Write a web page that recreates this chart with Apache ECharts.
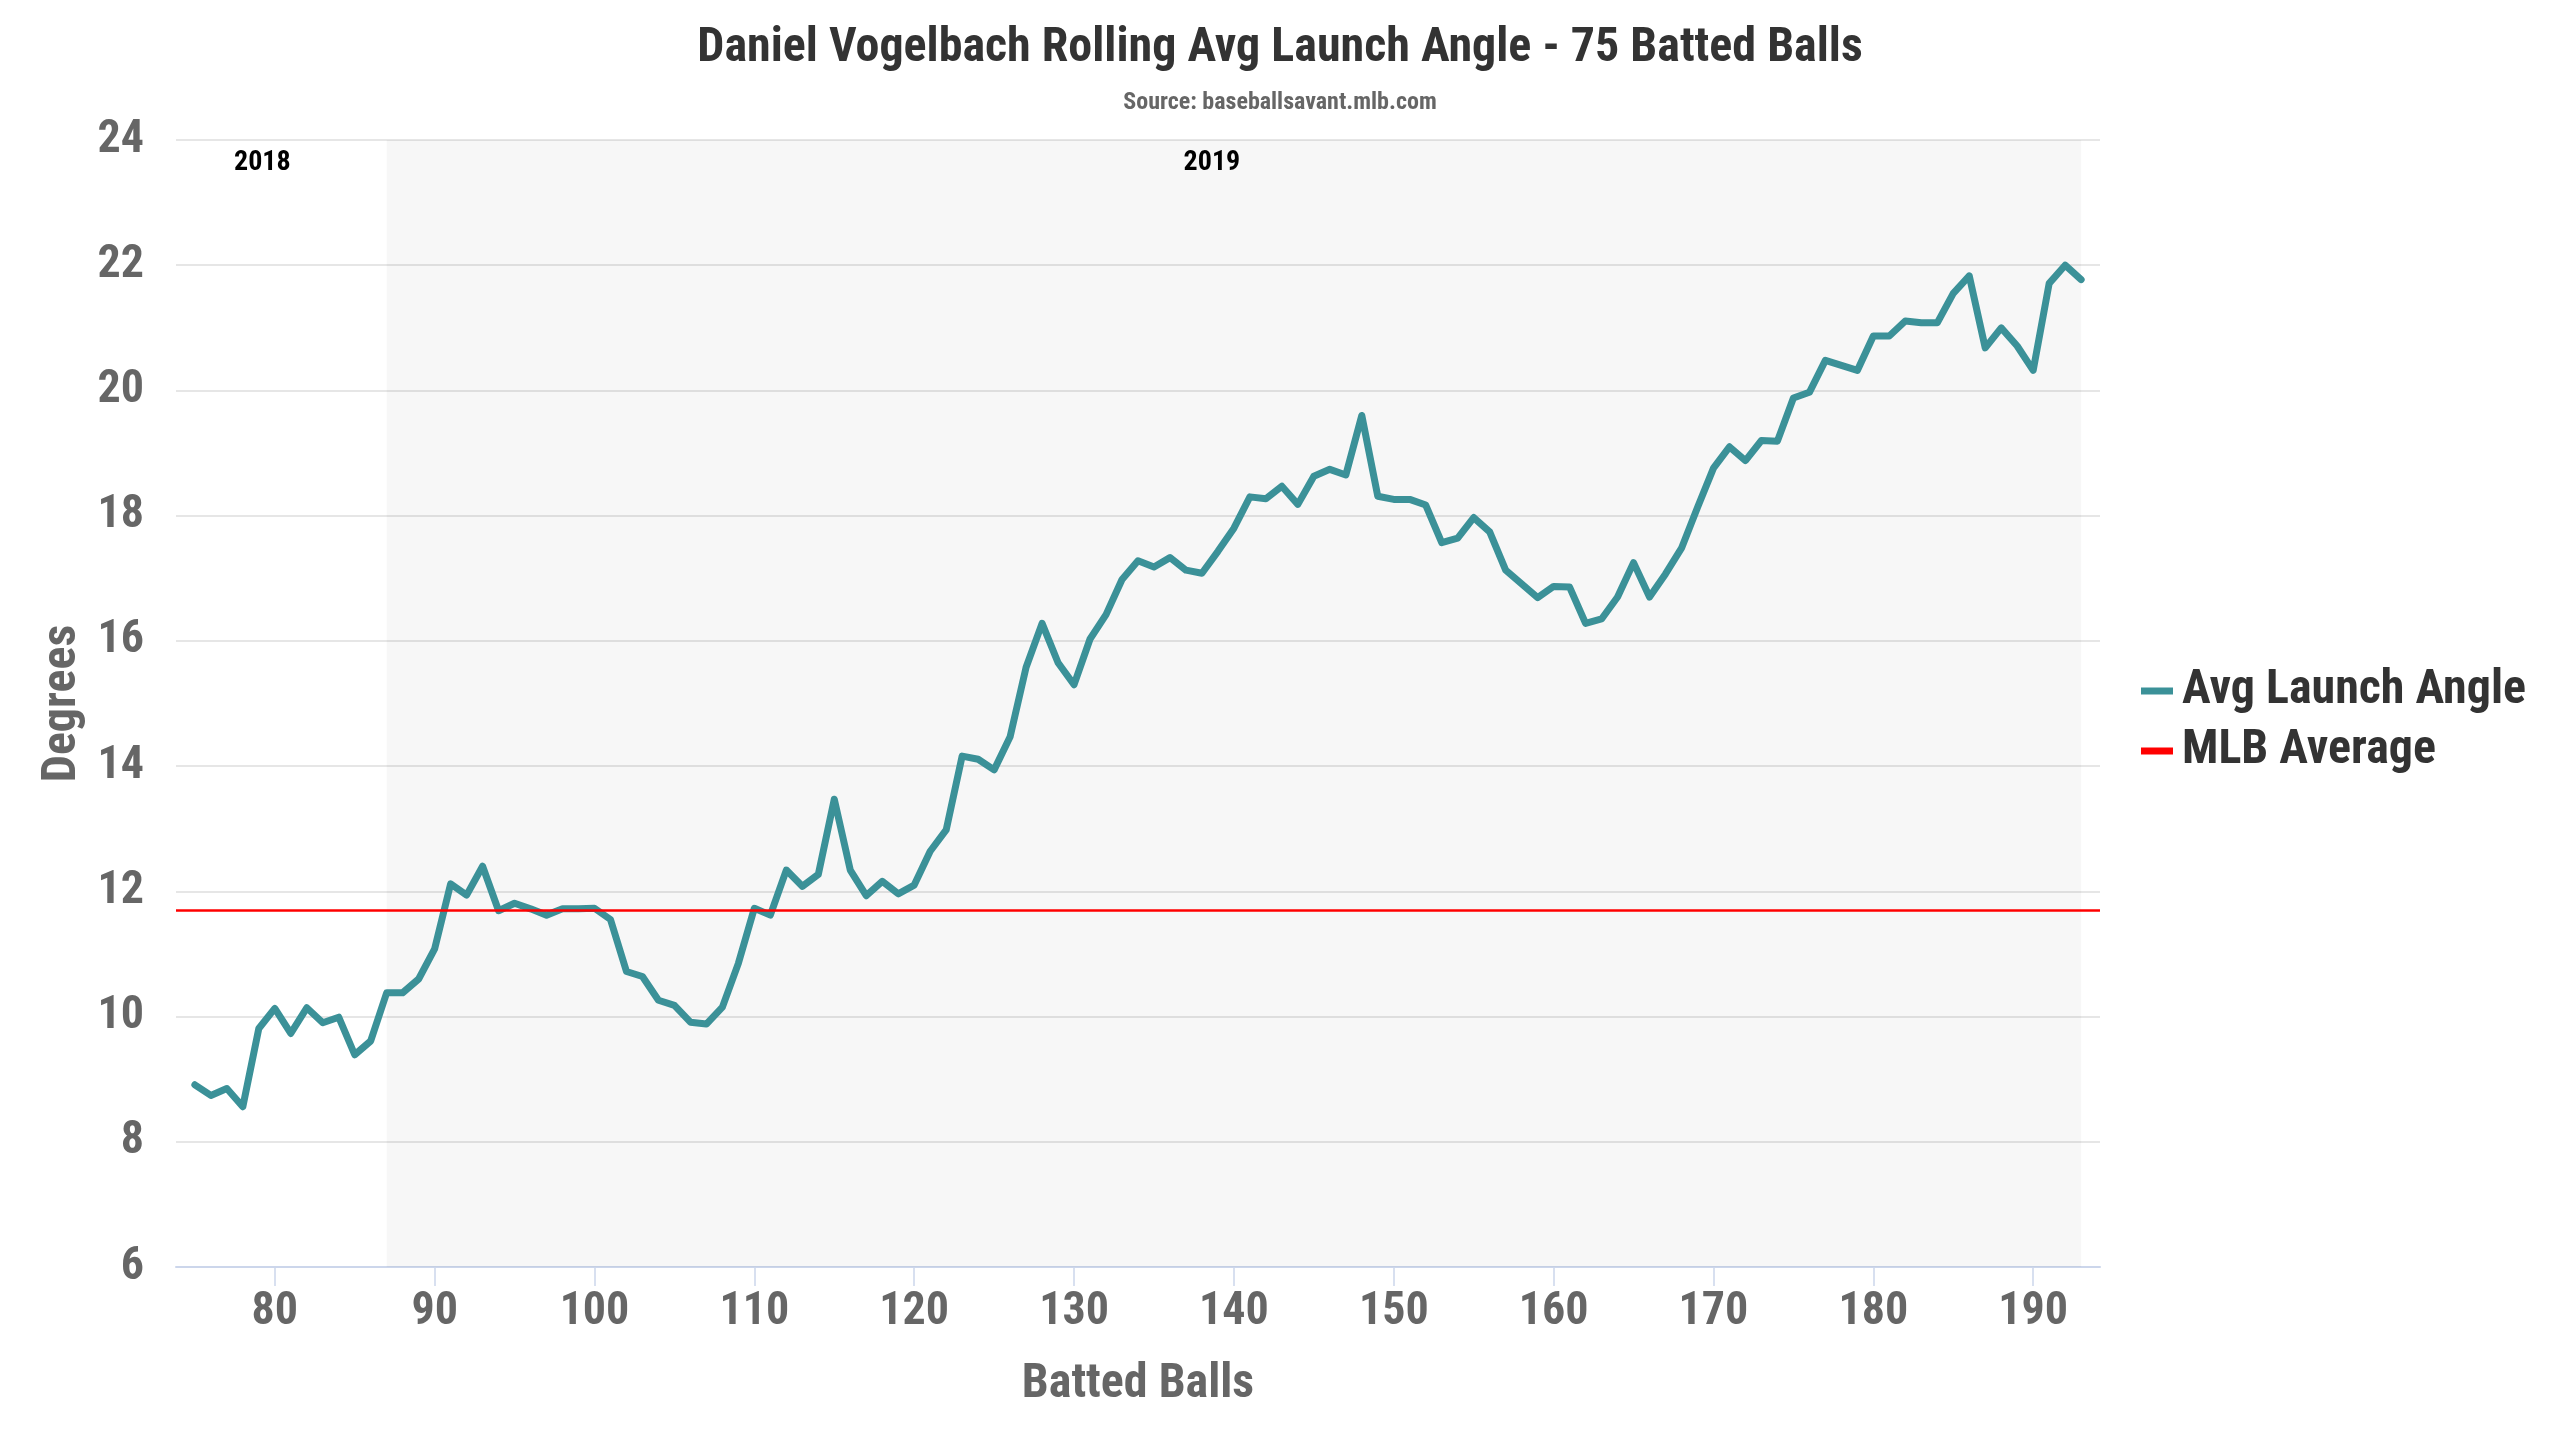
<!DOCTYPE html>
<html>
<head>
<meta charset="utf-8">
<title>Rolling Avg Launch Angle</title>
<style>
html, body { margin: 0; padding: 0; width: 100%; height: 100%; background: #fff; }
#container { width: 2560px; height: 1440px; }
</style>
<script src="https://cdn.jsdelivr.net/npm/echarts@6/dist/echarts.min.js"></script>
</head>
<body>
<div id="container"></div>
<script>
// x: number of batted balls, y: 75-ball rolling average launch angle
var battedBalls = [75, 76, 77, 78, 79, 80, 81, 82, 83, 84, 85, 86, 87, 88, 89, 90, 91, 92, 93, 94,
  95, 96, 97, 98, 99, 100, 101, 102, 103, 104, 105, 106, 107, 108, 109, 110, 111, 112, 113, 114,
  115, 116, 117, 118, 119, 120, 121, 122, 123, 124, 125, 126, 127, 128, 129, 130, 131, 132, 133, 134,
  135, 136, 137, 138, 139, 140, 141, 142, 143, 144, 145, 146, 147, 148, 149, 150, 151, 152, 153, 154,
  155, 156, 157, 158, 159, 160, 161, 162, 163, 164, 165, 166, 167, 168, 169, 170, 171, 172, 173, 174,
  175, 176, 177, 178, 179, 180, 181, 182, 183, 184, 185, 186, 187, 188, 189, 190, 191, 192, 193];

var launchAngle = [8.91, 8.74, 8.85, 8.56, 9.81, 10.13, 9.73, 10.14, 9.90, 9.99, 9.39, 9.61, 10.38, 10.38, 10.60, 11.08, 12.12, 11.94, 12.40, 11.69,
  11.81, 11.72, 11.62, 11.72, 11.72, 11.73, 11.55, 10.72, 10.64, 10.26, 10.18, 9.91, 9.88, 10.15, 10.85, 11.73, 11.62, 12.34, 12.08, 12.27,
  13.47, 12.34, 11.93, 12.16, 11.96, 12.10, 12.64, 12.98, 14.16, 14.11, 13.94, 14.47, 15.58, 16.28, 15.65, 15.30, 16.03, 16.42, 16.98, 17.28,
  17.18, 17.33, 17.13, 17.08, 17.43, 17.80, 18.30, 18.27, 18.47, 18.18, 18.63, 18.74, 18.65, 19.60, 18.31, 18.26, 18.26, 18.17, 17.57, 17.64,
  17.97, 17.74, 17.13, 16.91, 16.69, 16.87, 16.86, 16.28, 16.35, 16.70, 17.25, 16.70, 17.07, 17.48, 18.13, 18.76, 19.10, 18.88, 19.20, 19.19,
  19.88, 19.97, 20.48, 20.40, 20.32, 20.87, 20.87, 21.11, 21.08, 21.08, 21.55, 21.83, 20.68, 21.00, 20.71, 20.32, 21.71, 22.00, 21.77];

var mlbAverage = 11.69;

// season bands: [label, from, to]
var seasons = [['2018', 73.82, 87], ['2019', 87, 193]];

var xTicks = [80, 90, 100, 110, 120, 130, 140, 150, 160, 170, 180, 190];
var yTicks = [6, 8, 10, 12, 14, 16, 18, 20, 22, 24];

var FONT = "'Roboto Condensed', 'Liberation Sans Narrow', 'DejaVu Sans Condensed', 'Open Sans', sans-serif";

var lineData = battedBalls.map(function (b, i) { return [b, launchAngle[i]]; });

var bandData = seasons.map(function (s, i) {
  return [{
    name: s[0],
    xAxis: s[1],
    itemStyle: { color: i === 0 ? 'rgba(0,0,0,0)' : 'rgba(0,0,0,0.03)' },
    label: { offset: [i === 0 ? -19 : -22, 0] }
  }, { xAxis: s[2] }];
});

var chart = echarts.init(document.getElementById('container'));

chart.setOption({
  animation: false,
  backgroundColor: '#ffffff',
  textStyle: { fontFamily: FONT },
  title: {
    text: 'Daniel Vogelbach Rolling Avg Launch Angle - 75 Batted Balls',
    subtext: 'Source: baseballsavant.mlb.com',
    left: 'center',
    top: 20,
    itemGap: 18,
    textStyle: { fontFamily: FONT, fontSize: 48, fontWeight: 'bold', color: '#333333' },
    subtextStyle: { fontFamily: FONT, fontSize: 24, fontWeight: 'bold', color: '#666666' }
  },
  legend: {
    orient: 'vertical',
    left: 2136,
    top: 662,
    itemWidth: 32,
    itemHeight: 7,
    itemGap: 12,
    icon: 'rect',
    textStyle: { fontFamily: FONT, fontSize: 48, fontWeight: 'bold', color: '#333333', padding: [0, 0, 0, 4] },
    data: ['Avg Launch Angle', 'MLB Average']
  },
  grid: { left: 176, right: 460, top: 140, bottom: 173, containLabel: false },
  xAxis: {
    type: 'value',
    min: 73.82,
    max: 194.18,
    name: 'Batted Balls',
    nameLocation: 'middle',
    nameGap: 94,
    nameTextStyle: { fontFamily: FONT, fontSize: 48, fontWeight: 'bold', color: '#666666' },
    axisLine: { show: true, lineStyle: { color: '#ccd6eb', width: 2 } },
    axisTick: { show: true, length: 19, lineStyle: { color: '#ccd6eb', width: 1.5 }, customValues: xTicks },
    axisLabel: { fontFamily: FONT, fontSize: 46, fontWeight: 'bold', color: '#666666', margin: 22, customValues: xTicks },
    splitLine: { show: false }
  },
  yAxis: {
    type: 'value',
    min: 6,
    max: 24,
    interval: 2,
    name: 'Degrees',
    nameLocation: 'middle',
    nameRotate: 90,
    nameGap: 86,
    nameTextStyle: { fontFamily: FONT, fontSize: 48, fontWeight: 'bold', color: '#666666' },
    axisLine: { show: false },
    axisTick: { show: false },
    axisLabel: { fontFamily: FONT, fontSize: 46, fontWeight: 'bold', color: '#666666', margin: 32, customValues: yTicks },
    splitLine: { show: true, lineStyle: { color: '#e6e6e6', width: 2 } }
  },
  series: [
    {
      name: 'Avg Launch Angle',
      type: 'line',
      data: lineData,
      showSymbol: false,
      symbol: 'none',
      z: 3,
      color: '#3b9198',
      lineStyle: { color: '#3b9198', width: 7, join: 'round', cap: 'round' },
      markArea: {
        silent: true,
        label: {
          show: true,
          position: 'insideTop',
          distance: 9,
          fontFamily: FONT,
          fontSize: 28,
          fontWeight: 'bold',
          color: '#000000'
        },
        data: bandData
      }
    },
    {
      name: 'MLB Average',
      type: 'line',
      data: [],
      color: '#ff0000',
      symbol: 'none',
      lineStyle: { color: '#ff0000', width: 3 },
      markLine: {
        silent: true,
        symbol: 'none',
        label: { show: false },
        lineStyle: { color: '#ff0000', width: 2.5, type: 'solid' },
        data: [{ yAxis: mlbAverage }]
      }
    }
  ]
});
</script>
</body>
</html>
